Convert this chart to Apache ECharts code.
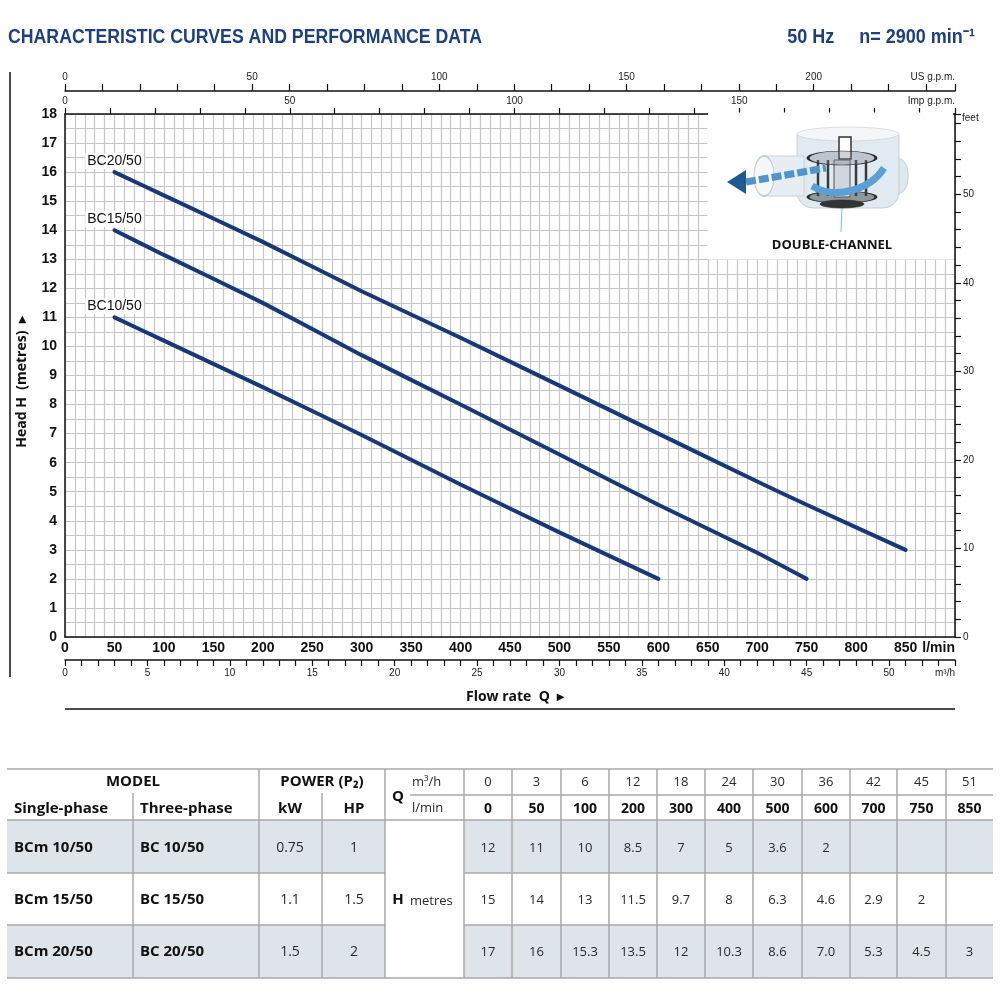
<!DOCTYPE html>
<html lang="en">
<head>
    <meta charset="UTF-8">
    <title>Characteristic curves and performance data</title>
    <script src="https://cdn.jsdelivr.net/npm/echarts@6/dist/echarts.min.js"></script>
    <style>
        body { margin: 0; background: #fff; }
        #chart { width: 1000px; height: 1000px; }
    </style>
</head>
<body>
    <div id="chart"></div>
    <script>
        // performance table
        const flowM3h = [0, 3, 6, 12, 18, 24, 30, 36, 42, 45, 51];
        const flowLmin = [0, 50, 100, 200, 300, 400, 500, 600, 700, 750, 850];
        const headBC10 = ['12', '11', '10', '8.5', '7', '5', '3.6', '2', '', '', ''];
        const headBC15 = ['15', '14', '13', '11.5', '9.7', '8', '6.3', '4.6', '2.9', '2', ''];
        const headBC20 = ['17', '16', '15.3', '13.5', '12', '10.3', '8.6', '7.0', '5.3', '4.5', '3'];
        const singlePhase = ['BCm 10/50', 'BCm 15/50', 'BCm 20/50'];
        const threePhase = ['BC 10/50', 'BC 15/50', 'BC 20/50'];
        const powerKW = ['0.75', '1.1', '1.5'];
        const powerHP = ['1', '1.5', '2'];
        const heads = [headBC10, headBC15, headBC20];

        // curves (l/min, metres)
        const curveNames = ['BC10/50', 'BC15/50', 'BC20/50'];
        const curveQ = [50, 100, 200, 300, 400, 500, 600, 700, 750, 850];
        const curveBC10 = [11, 10.2, 8.6, 6.95, 5.25, 3.6, 2];
        const curveBC15 = [14, 13.15, 11.5, 9.7, 8, 6.28, 4.55, 2.9, 2];
        const curveBC20 = [16, 15.2, 13.6, 11.9, 10.3, 8.65, 7.0, 5.35, 4.55, 3];
        const curves = [curveBC10, curveBC15, curveBC20];

        // unit conversions for the secondary axes
        const LMIN_MAX = 900;
        const USGPM = 3.78541, IMPGPM = 4.54609, M_TO_FT = 3.28084;

        const NARROW = '"Liberation Sans", Arial, sans-serif';
        const SANS = '"Open Sans", "Noto Sans", sans-serif';
        const GRID = '#c6c6c6';

        let chart = echarts.init(document.getElementById('chart'));

        function curveData(i) {
            return curves[i].map((h, k) => {
                const item = { value: [curveQ[k], h] };
                if (k === 0) item.label = { show: true, formatter: curveNames[i] };
                return item;
            });
        }

        // ellipse helper for the pump sketch
        function ell(cx, cy, rx, ry, style, z) {
            return { type: 'circle', x: cx, y: cy, scaleY: ry / rx, z: z || 3,
                shape: { cx: 0, cy: 0, r: rx }, style: Object.assign({ strokeNoScale: true }, style) };
        }

        function tableGraphics() {
            const g = [];
            const lineCol = '#a8a8a8';
            const rowY = [769, 795, 820, 873, 925, 978];
            const colX = [464, 512, 561, 609, 657, 705, 753, 802, 850, 897, 946, 993];
            const shade = '#dde4ea';
            const hl = (x1, x2, y) => g.push({ type: 'line', z: 5, shape: { x1, y1: y, x2, y2: y }, style: { stroke: lineCol, lineWidth: 1.5 } });
            const vl = (x, y1, y2) => g.push({ type: 'line', z: 5, shape: { x1: x, y1, x2: x, y2 }, style: { stroke: lineCol, lineWidth: 1.5 } });
            const tx = (text, x, y, opt) => g.push({ type: 'text', z: 6, x, y, style: Object.assign({
                text, font: '13px ' + SANS, fill: '#2a2a2a', textAlign: 'center', textVerticalAlign: 'middle' }, opt || {}) });
            const bold = (size) => ({ font: 'bold ' + (size || 15) + 'px ' + SANS, fill: '#111' });
            const left = (o) => Object.assign(o, { textAlign: 'left' });

            [0, 2].forEach(r => {
                g.push({ type: 'rect', z: 4, shape: { x: 7, y: rowY[2 + r], width: 378, height: rowY[3 + r] - rowY[2 + r] }, style: { fill: shade } });
                g.push({ type: 'rect', z: 4, shape: { x: 464, y: rowY[2 + r], width: 529, height: rowY[3 + r] - rowY[2 + r] }, style: { fill: shade } });
            });

            hl(7, 993, 769);
            hl(410, 993, 795);
            hl(7, 993, 820);
            hl(7, 385, 873); hl(464, 993, 873);
            hl(7, 385, 925); hl(464, 993, 925);
            hl(7, 993, 978);
            vl(133, 793, 978); vl(322, 793, 978);
            vl(259, 769, 978); vl(385, 769, 978);
            colX.slice(0, -1).forEach(x => vl(x, 769, 978));

            tx('MODEL', 133, 782, bold());
            tx('POWER (P\u2082)', 322, 782, bold());
            tx('Single-phase', 14, 809, left(bold()));
            tx('Three-phase', 140, 809, left(bold()));
            tx('kW', 290, 809, bold());
            tx('HP', 354, 809, bold());
            tx('Q', 398, 797, bold(15));
            tx('m\u00b3/h', 412, 782, { textAlign: 'left', font: '13px ' + SANS });
            tx('l/min', 412, 808, { textAlign: 'left', font: '13px ' + SANS });
            tx('H', 398, 900, bold(15));
            tx('metres', 410, 901, { textAlign: 'left', font: '13px ' + SANS });

            flowM3h.forEach((q, k) => {
                const cx = (colX[k] + colX[k + 1]) / 2;
                tx(String(q), cx, 782);
                tx(String(flowLmin[k]), cx, 809, bold(14));
            });
            [848, 900, 952].forEach((y, r) => {
                tx(singlePhase[r], 14, y, left(bold()));
                tx(threePhase[r], 140, y, left(bold()));
                tx(powerKW[r], 290, y, { font: '14px ' + SANS });
                tx(powerHP[r], 354, y, { font: '14px ' + SANS });
                heads[r].forEach((h, k) => {
                    if (h !== '') tx(h, (colX[k] + colX[k + 1]) / 2, y);
                });
            });
            return g;
        }

        function insetGraphics() {
            const g = [];
            g.push({ type: 'rect', z: 1, shape: { x: 707.5, y: 115, width: 246.5, height: 144.5 }, style: { fill: '#fff' } });
            g.push({ type: 'rect', z: 10, shape: { x: 708, y: 112.5, width: 245, height: 3 }, style: { fill: '#fff' } });
            // body
            g.push({ type: 'rect', z: 2, shape: { x: 870, y: 156, width: 38, height: 40, r: 16 }, style: { fill: '#dde7ee', stroke: '#c5d0d8' } });
            g.push({ type: 'rect', z: 2, shape: { x: 797, y: 134, width: 102, height: 74, r: [0, 0, 16, 16] }, style: { fill: '#e1eaf1', stroke: '#c5d0d8' } });
            g.push(ell(848, 134, 51, 7, { fill: '#f3f7fa', stroke: '#bfcad3', lineWidth: 1 }, 3));
            // outlet pipe
            g.push({ type: 'rect', z: 2, shape: { x: 764, y: 156, width: 40, height: 40 }, style: { fill: '#e6edf3', stroke: '#c8d2da' } });
            g.push(ell(764, 176, 10, 20, { fill: '#f5f8fb', stroke: '#c0ccd6', lineWidth: 1 }, 3));
            // impeller
            g.push({ type: 'rect', z: 4, shape: { x: 839, y: 137, width: 12, height: 22 }, style: { fill: '#fff', stroke: '#333', lineWidth: 1.5 } });
            g.push(ell(842, 197, 34, 6, { fill: '#8d979e', stroke: '#2c2c2c', lineWidth: 3 }, 4));
            g.push(ell(842, 204, 22, 4, { fill: '#333', stroke: '#222', lineWidth: 1 }, 4));
            g.push({ type: 'rect', z: 5, shape: { x: 834, y: 160, width: 16, height: 37 }, style: { fill: '#cfd7dc', stroke: '#555', lineWidth: 1 } });
            [818, 828, 856, 866].forEach(x => g.push({ type: 'line', z: 5, shape: { x1: x, y1: 160, x2: x, y2: 196 }, style: { stroke: '#3a3a3a', lineWidth: 2.5 } }));
            g.push(ell(842, 158, 34, 7, { fill: 'rgba(120,130,138,0.35)', stroke: '#2c2c2c', lineWidth: 3 }, 6));
            // flow band and arrow
            g.push({ type: 'line', z: 6, shape: { x1: 746, y1: 182, x2: 826, y2: 168 }, style: { stroke: '#4f95cc', lineWidth: 7, lineDash: [10, 3] } });
            g.push({ type: 'bezierCurve', z: 7, shape: { x1: 812, y1: 186, cpx1: 835, cpy1: 200, cpx2: 870, cpy2: 190, x2: 884, y2: 168 }, style: { stroke: '#5ba0d4', lineWidth: 7, fill: 'none' } });
            g.push({ type: 'polygon', z: 7, shape: { points: [[727, 182], [746, 170], [746, 194]] }, style: { fill: '#1e5a92' } });
            g.push({ type: 'line', z: 3, shape: { x1: 842, y1: 207, x2: 841, y2: 232 }, style: { stroke: '#86b8dc', lineWidth: 1 } });
            g.push({ type: 'text', z: 8, x: 832, y: 245, style: { text: 'DOUBLE-CHANNEL', font: 'bold 13px ' + SANS, fill: '#111', textAlign: 'center', textVerticalAlign: 'middle' } });
            return g;
        }

        const every = (n) => (v) => (Math.abs(v % n) < 1e-6 ? String(v) : '');
        const smallLabel = { fontFamily: NARROW, fontSize: 10, color: '#222' };

        const option = {
            animation: false,
            grid: { left: 65, top: 114, width: 890, height: 523 },
            xAxis: [
                {
                    type: 'value', min: 0, max: LMIN_MAX, interval: 50, position: 'bottom',
                    axisLine: { lineStyle: { color: '#111', width: 1.5 } },
                    axisTick: { show: false },
                    axisLabel: { fontFamily: NARROW, fontWeight: 'bold', fontSize: 14, color: '#111', margin: 4,
                        formatter: v => (v >= LMIN_MAX ? '' : String(v)) },
                    splitLine: { show: true, lineStyle: { color: GRID, width: 1.2 } },
                    minorTick: { show: false, splitNumber: 5 },
                    minorSplitLine: { show: true, lineStyle: { color: GRID, width: 1.2 } }
                },
                {
                    type: 'value', min: 0, max: LMIN_MAX * 60 / 1000, interval: 1, position: 'bottom', offset: 23,
                    axisLine: { onZero: false, lineStyle: { color: '#111', width: 1.5 } },
                    axisTick: { length: 6, lineStyle: { color: '#111', width: 1.2 } },
                    axisLabel: Object.assign({ margin: 8, formatter: every(5) }, smallLabel),
                    splitLine: { show: false }
                },
                {
                    type: 'value', min: 0, max: LMIN_MAX / USGPM, interval: 10, position: 'top', offset: 23,
                    axisLine: { onZero: false, lineStyle: { color: '#111', width: 1.5 } },
                    axisTick: { length: 7, lineStyle: { color: '#111', width: 1.2 } },
                    axisLabel: Object.assign({ margin: 9, formatter: every(50) }, smallLabel),
                    splitLine: { show: false }
                },
                {
                    type: 'value', min: 0, max: LMIN_MAX / IMPGPM, interval: 10, position: 'top', offset: 0,
                    axisLine: { onZero: false, lineStyle: { color: '#111', width: 1.5 } },
                    axisTick: { length: 6, lineStyle: { color: '#111', width: 1.2 } },
                    axisLabel: Object.assign({ margin: 8, formatter: every(50) }, smallLabel),
                    splitLine: { show: false }
                }
            ],
            yAxis: [
                {
                    type: 'value', min: 0, max: 18, interval: 1, position: 'left',
                    axisLine: { show: true, onZero: false, lineStyle: { color: '#111', width: 1.5 } },
                    axisTick: { show: false },
                    axisLabel: { fontFamily: NARROW, fontWeight: 'bold', fontSize: 14, color: '#111', margin: 8 },
                    splitLine: { show: true, lineStyle: { color: GRID, width: 1.2 } },
                    minorTick: { show: false, splitNumber: 2 },
                    minorSplitLine: { show: true, lineStyle: { color: GRID, width: 1.2 } }
                },
                {
                    type: 'value', min: 0, max: 18 * M_TO_FT, interval: 2, position: 'right',
                    axisLine: { show: true, onZero: false, lineStyle: { color: '#111', width: 1.5 } },
                    axisTick: { show: true, length: 6, lineStyle: { color: '#111', width: 1.2 } },
                    axisLabel: Object.assign({ margin: 8, formatter: every(10) }, smallLabel),
                    splitLine: { show: false }
                }
            ],
            series: [0, 1, 2].map(i => ({
                type: 'line',
                name: curveNames[i],
                xAxisIndex: 0, yAxisIndex: 0,
                smooth: 0.15,
                symbol: 'circle', symbolSize: 0.1, showSymbol: true,
                itemStyle: { color: '#17397a' },
                lineStyle: { color: '#17397a', width: 4, cap: 'round' },
                label: { show: false, position: 'top', distance: 3, fontFamily: NARROW, fontSize: 14,
                    color: '#111', backgroundColor: '#fff', padding: [1, 2] },
                z: 3,
                data: curveData(i)
            })),
            graphic: [
                { type: 'text', x: 8, y: 37, scaleX: 0.885, style: { text: 'CHARACTERISTIC CURVES AND PERFORMANCE DATA',
                    font: 'bold 20px ' + NARROW, fill: '#1d3f84', textVerticalAlign: 'middle' } },
                { type: 'text', x: 975, y: 37, scaleX: 0.9, style: { text: '50 Hz     n= 2900 min\u207b\u00b9',
                    font: 'bold 20px ' + NARROW, fill: '#1d3f84', textAlign: 'right', textVerticalAlign: 'middle' } },
                { type: 'line', shape: { x1: 10, y1: 72, x2: 10, y2: 677 }, style: { stroke: '#111', lineWidth: 1.5 } },
                { type: 'line', shape: { x1: 65, y1: 709, x2: 955, y2: 709 }, style: { stroke: '#111', lineWidth: 1.5 } },
                { type: 'text', x: 22, y: 382, rotation: Math.PI / 2, style: { text: 'Head H  (metres)  \u25b8',
                    font: 'bold 14px ' + SANS, fill: '#111', textAlign: 'center', textVerticalAlign: 'middle' } },
                { type: 'text', x: 515, y: 697, style: { text: 'Flow rate  Q  \u25b8', font: 'bold 14px ' + SANS,
                    fill: '#111', textAlign: 'center', textVerticalAlign: 'middle' } },
                { type: 'text', x: 955, y: 648, style: { text: 'l/min', font: 'bold 14px ' + NARROW, fill: '#111',
                    textAlign: 'right', textVerticalAlign: 'middle' } },
                { type: 'text', x: 955, y: 673, style: { text: 'm\u00b3/h', font: '10px ' + NARROW, fill: '#222',
                    textAlign: 'right', textVerticalAlign: 'middle' } },
                { type: 'text', x: 955, y: 77, z: 11, style: { text: 'US g.p.m.', font: '10px ' + NARROW, fill: '#222',
                    textAlign: 'right', textVerticalAlign: 'middle', backgroundColor: '#fff' } },
                { type: 'text', x: 955, y: 101, z: 11, style: { text: 'Imp g.p.m.', font: '10px ' + NARROW, fill: '#222',
                    textAlign: 'right', textVerticalAlign: 'middle', backgroundColor: '#fff' } },
                { type: 'text', x: 962, y: 118, style: { text: 'feet', font: '10px ' + NARROW, fill: '#222',
                    textAlign: 'left', textVerticalAlign: 'middle' } }
            ].concat(insetGraphics(), tableGraphics())
        };

        chart.setOption(option);
    </script>
</body>
</html>
